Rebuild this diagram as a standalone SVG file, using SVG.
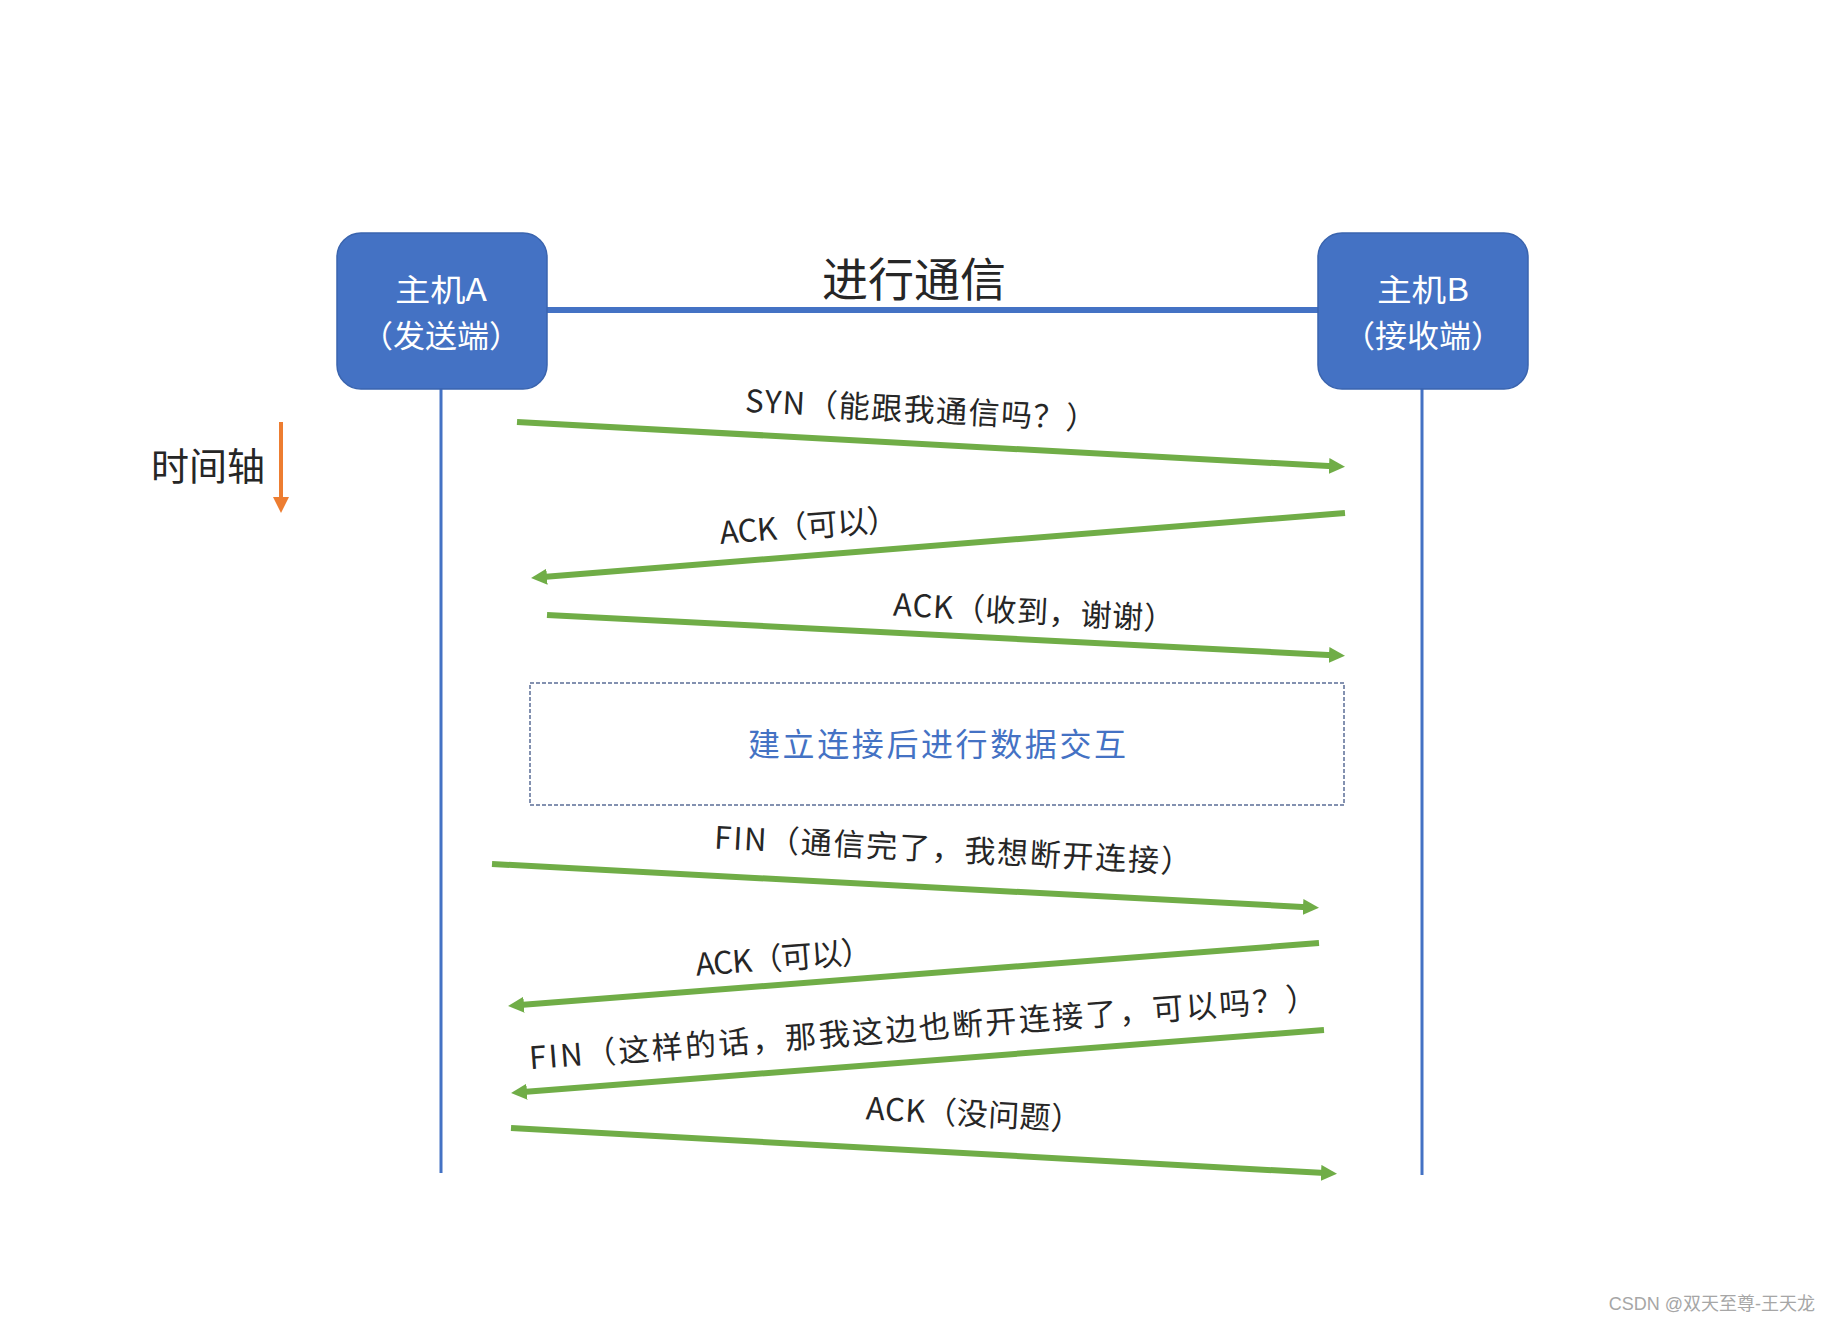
<svg xmlns="http://www.w3.org/2000/svg" width="1824" height="1318" viewBox="0 0 1824 1318">
<style>
.box{fill:#4472C4;stroke:#3A64AE;stroke-width:1.5}
.boxtxt{font-family:"Noto Sans CJK SC","Noto Sans",sans-serif;font-size:31px;fill:#FFFFFF;text-anchor:middle}
.life{stroke:#4472C4;stroke-width:3;fill:none}
.msg{stroke:#70AD47;stroke-width:6;fill:none;marker-end:url(#ga)}
.lbl{font-family:"Noto Sans CJK SC","Noto Sans",sans-serif;font-size:31px;fill:#262626;text-anchor:middle}
.title{font-family:"Noto Sans CJK SC","Noto Sans",sans-serif;font-size:46px;fill:#262626;text-anchor:middle}
</style>
<defs>
<marker id="ga" markerUnits="userSpaceOnUse" markerWidth="16" markerHeight="16" refX="4" refY="8" orient="auto">
<path d="M0,0 L16,8 L0,16 z" fill="#70AD47"/>
</marker>
<marker id="oa" markerUnits="userSpaceOnUse" markerWidth="16" markerHeight="16" refX="4" refY="8" orient="auto">
<path d="M0,0 L16,8 L0,16 z" fill="#ED7D31"/>
</marker>
</defs>
<rect width="1824" height="1318" fill="#FFFFFF"/>

<g id="lifelines">
<line class="life" x1="441" y1="389" x2="441" y2="1173"/>
<line class="life" x1="1422" y1="389" x2="1422" y2="1175"/>
</g>

<g id="comm-line">
<line x1="547" y1="310" x2="1318" y2="310" stroke="#4472C4" stroke-width="6"/>
<text class="title" x="914" y="296">进行通信</text>
</g>

<g id="hostA">
<rect class="box" x="337" y="233" width="210" height="156" rx="24" ry="24"/>
<text class="boxtxt" x="441" y="301" textLength="92" lengthAdjust="spacingAndGlyphs">主机A</text>
<text class="boxtxt" x="441" y="347" textLength="160" lengthAdjust="spacingAndGlyphs">（发送端）</text>
</g>

<g id="hostB">
<rect class="box" x="1318" y="233" width="210" height="156" rx="24" ry="24"/>
<text class="boxtxt" x="1423" y="301" textLength="92" lengthAdjust="spacingAndGlyphs">主机B</text>
<text class="boxtxt" x="1423" y="347" textLength="160" lengthAdjust="spacingAndGlyphs">（接收端）</text>
</g>

<g id="timeline">
<text x="208" y="480" font-family="'Noto Sans CJK SC','Noto Sans',sans-serif" font-size="38" fill="#262626" text-anchor="middle">时间轴</text>
<line x1="281" y1="422" x2="281" y2="501" stroke="#ED7D31" stroke-width="4" marker-end="url(#oa)"/>
</g>

<g id="connectors">
<line class="msg" x1="517" y1="422" x2="1333" y2="466.2"/>
<line class="msg" x1="1345" y1="513" x2="543" y2="577"/>
<line class="msg" x1="547" y1="615" x2="1333" y2="655.2"/>
<line class="msg" x1="492" y1="864" x2="1307" y2="907.2"/>
<line class="msg" x1="1319" y1="943" x2="520" y2="1005"/>
<line class="msg" x1="1324" y1="1030" x2="523" y2="1092"/>
<line class="msg" x1="511" y1="1128" x2="1325" y2="1173.1"/>
</g>

<g id="labels">
<text class="lbl" transform="translate(921,411) rotate(3)" x="0" y="10" textLength="352" lengthAdjust="spacing">SYN（能跟我通信吗？）</text>
<text class="lbl" transform="translate(809,527) rotate(-4.5)" x="0" y="10" textLength="179" lengthAdjust="spacing">ACK（可以）</text>
<text class="lbl" transform="translate(1034,613) rotate(3)" x="0" y="10" textLength="282" lengthAdjust="spacing">ACK（收到，谢谢）</text>
<text class="lbl" transform="translate(953,851) rotate(3)" x="0" y="10" textLength="478" lengthAdjust="spacing">FIN（通信完了，我想断开连接）</text>
<text class="lbl" transform="translate(784,959) rotate(-4.4)" x="0" y="10" textLength="177" lengthAdjust="spacing">ACK（可以）</text>
<text class="lbl" transform="translate(923,1029) rotate(-4.4)" x="0" y="10" textLength="790" lengthAdjust="spacing">FIN（这样的话，那我这边也断开连接了，可以吗？）</text>
<text class="lbl" transform="translate(974,1115) rotate(3)" x="0" y="10" textLength="216" lengthAdjust="spacing">ACK（没问题）</text>
</g>

<g id="data-exchange">
<rect x="530" y="683" width="814" height="122" fill="none" stroke="#5B6E96" stroke-width="1.5" stroke-dasharray="4 2"/>
<text x="937" y="756" font-family="'Noto Sans CJK SC','Noto Sans',sans-serif" font-size="32" fill="#4472C4" text-anchor="middle" textLength="378" lengthAdjust="spacing">建立连接后进行数据交互</text>
</g>

<text x="1815" y="1310" font-family="'Liberation Sans','Noto Sans CJK SC',sans-serif" font-size="18" fill="#A6A6A6" text-anchor="end">CSDN @双天至尊-王天龙</text>
</svg>
